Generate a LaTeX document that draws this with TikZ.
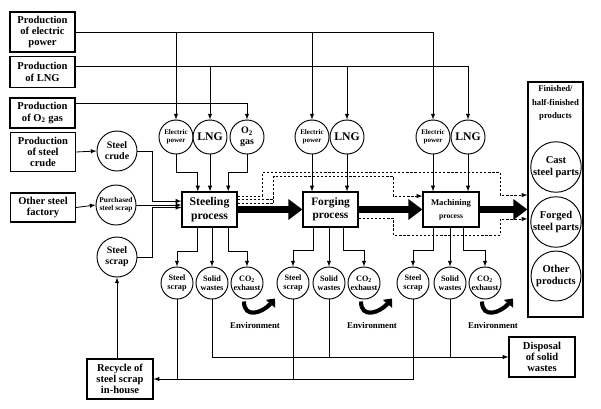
\documentclass[tikz,border=0pt]{standalone}
\usepackage{fontspec}
\setmainfont{Liberation Serif}
\usetikzlibrary{arrows.meta,calc}

\tikzset{
  srcbox/.style={draw, line width=0.9pt, align=center, minimum width=1.95cm, inner sep=1pt,
    font=\bfseries\fontsize{9}{9.6}\selectfont},
  procbox/.style={draw, line width=0.9pt, align=center, minimum width=1.65cm, minimum height=1.05cm, inner sep=1pt},
  res/.style={draw, circle, line width=0.8pt, minimum size=1.02cm, inner sep=0pt, align=center},
  outres/.style={draw, circle, line width=0.8pt, minimum size=0.96cm, inner sep=0pt, align=center,
    font=\bfseries\fontsize{7}{7.6}\selectfont},
  inres/.style={draw, circle, line width=0.8pt, minimum size=1.2cm, inner sep=0pt, align=center},
  prodres/.style={draw, circle, line width=0.8pt, minimum size=1.5cm, inner sep=0pt, align=center,
    font=\bfseries\fontsize{9}{10}\selectfont},
  dashline/.style={dash pattern=on 2pt off 1.5pt, line width=0.7pt},
  bigarrow/.style={line width=6pt, -{Triangle[length=12pt,width=17pt]}},
  envarrow/.style={line width=3.5pt, -{Triangle[length=6pt,width=10pt]}},
  envlabel/.style={font=\bfseries\fontsize{7.5}{8}\selectfont}
}

\begin{document}
\begin{tikzpicture}[x=0.03cm, y=-0.03cm, >=latex, line width=0.7pt]
\useasboundingbox (0,0) rectangle (601,408);

% source boxes
\node[srcbox, minimum height=1.2cm] (pelec) at (42.5,32) {Production\\of electric\\power};
\node[srcbox, minimum height=0.93cm] (plng) at (42.5,72) {Production\\of LNG};
\node[srcbox, minimum height=0.9cm] (po2) at (42.5,113) {Production\\of O\textsubscript{2} gas};
\node[srcbox, minimum height=1.17cm] (pcrude) at (43,152) {Production\\of steel\\crude};
\node[srcbox, minimum height=0.87cm] (other) at (43,207.5) {Other steel\\factory};
\node[srcbox, minimum width=1.98cm, minimum height=1.2cm] (recycle) at (120,379) {Recycle of\\steel scrap\\in-house};
\node[srcbox, minimum width=1.98cm, minimum height=1.2cm] (disposal) at (542,357) {Disposal\\of solid\\wastes};

% input circles
\node[inres, font=\bfseries\fontsize{8.5}{9.5}\selectfont] (crude) at (117,151) {Steel\\crude};
\node[inres, font=\bfseries\fontsize{6.3}{7}\selectfont] (purch) at (116,205) {Purchased\\steel scrap};
\node[inres, font=\bfseries\fontsize{8.5}{9.5}\selectfont] (scrap) at (117,257) {Steel\\scrap};

% processes
\node[procbox, font=\bfseries\fontsize{10}{11.5}\selectfont] (steel) at (209.5,209.5) {Steeling\\process};
\node[procbox, font=\bfseries\fontsize{9.7}{11.5}\selectfont] (forge) at (330.5,209.5) {Forging\\process};
\node[procbox, minimum width=1.68cm, font=\bfseries\fontsize{7.4}{11}\selectfont] (mach) at (451,209.5) {Machining\\{\fontsize{6.5}{7}\selectfont process}};

% utility circles
\node[res, font=\bfseries\fontsize{6}{6.6}\selectfont] (e1) at (176,137) {Electric\\power};
\node[res, font=\bfseries\fontsize{10}{11}\selectfont] (l1) at (210,137) {LNG};
\node[res, font=\bfseries\fontsize{8.5}{9.5}\selectfont] (o1) at (247,137) {O\textsubscript{2}\\gas};
\node[res, font=\bfseries\fontsize{6}{6.6}\selectfont] (e2) at (312,137) {Electric\\power};
\node[res, font=\bfseries\fontsize{10}{11}\selectfont] (l2) at (347,137) {LNG};
\node[res, font=\bfseries\fontsize{6}{6.6}\selectfont] (e3) at (433,137) {Electric\\power};
\node[res, font=\bfseries\fontsize{10}{11}\selectfont] (l3) at (468,137) {LNG};

% output circles
\node[outres] (s1) at (177,283) {Steel\\scrap};
\node[outres] (w1) at (212,283) {Solid\\wastes};
\node[outres] (c1) at (247,283) {CO\textsubscript{2}\\exhaust};
\node[outres] (s2) at (293,283) {Steel\\scrap};
\node[outres] (w2) at (329,283) {Solid\\wastes};
\node[outres] (c2) at (364,283) {CO\textsubscript{2}\\exhaust};
\node[outres] (s3) at (413,283) {Steel\\scrap};
\node[outres] (w3) at (450,283) {Solid\\wastes};
\node[outres] (c3) at (485,283) {CO\textsubscript{2}\\exhaust};

% products
\node[draw, line width=0.9pt, minimum width=1.65cm, minimum height=7.05cm] (prod) at (555.5,199.5) {};
\node[align=center, font=\bfseries\fontsize{7.4}{11.5}\selectfont] (prodtitle) at (555.5,103) {Finished/\\half-finished\\products};
\node[prodres] (cast) at (556,167) {Cast\\steel parts};
\node[prodres] (forged) at (556,222) {Forged\\steel parts};
\node[prodres] (otherp) at (556,276) {Other\\products};

% supply lines
\draw[->] (pelec.east) -| (e3.north);
\foreach \n in {e1,e2} \draw[->] (\n |- pelec.east) -- (\n.north);
\coordinate (lngline) at ([yshift=5pt]plng.east);
\draw[->] (lngline) -| (l3.north);
\foreach \n in {l1,l2} \draw[->] (\n |- lngline) -- (\n.north);
\draw[->] ([yshift=8.5pt]po2.east) -| (o1.north);

% into processes
\draw[->] (e1.south) -- ++(0,18) -| ([xshift=-10pt]steel.north);
\draw[->] (l1.south) -- (l1 |- steel.north);
\draw[->] (o1.south) -- ++(0,18) -| ([xshift=16pt]steel.north);
\foreach \n in {e2,l2} \draw[->] (\n.south) -- (\n |- forge.north);
\foreach \n in {e3,l3} \draw[->] (\n.south) -- (\n |- mach.north);

\draw[->] (pcrude.east) -- (crude.west);
\draw[->] (other.east) -- (purch.west);
\draw[->] (scrap |- recycle.north) -- (scrap.south);
\draw[->] (crude.east) -- ++(15,0) |- ([yshift=7.2pt]steel.west);
\draw[->] (purch.east) -- (purch.east -| steel.west);
\draw[->] (scrap.east) -- ++(15,0) |- ([yshift=1.7pt]steel.west);

% main flow
\draw[bigarrow] (steel.east) -- (forge.west);
\draw[bigarrow] (forge.east) -- (mach.west);
\draw[bigarrow] (mach.east) -- (mach.east -| prod.west);

% by-pass flows
\draw[dashline, ->] ([yshift=11.5pt]steel.east) -- ++(25,0) |- (500,172) |- ([yshift=3.8pt]prod.west);
\draw[dashline] ([yshift=8.5pt]steel.east) -- ++(36,0);
\draw[dashline, ->] ([yshift=5pt]steel.east) -- ++(36,0) |- (393,176) |- ([yshift=11.5pt]mach.west);
\draw[dashline, ->] ([yshift=-7.5pt]forge.east) -- ++(35,0) |- (500,235) |- ([yshift=-16.6pt]prod.west);

% out of processes
\draw[->] ([xshift=-10pt]steel.south) -- ++(0,24) -| (s1.north);
\draw[->] (w1 |- steel.south) -- (w1.north);
\draw[->] ([xshift=16pt]steel.south) -- ++(0,24) -| (c1.north);
\draw[->] ([xshift=-15pt]forge.south) -- ++(0,23) -| (s2.north);
\draw[->] (w2 |- forge.south) -- (w2.north);
\draw[->] ([xshift=10.7pt]forge.south) -- ++(0,23) -| (c2.north);
\draw[->] ([xshift=-15.4pt]mach.south) -- ++(0,23) -| (s3.north);
\draw[->] (w3 |- mach.south) -- (w3.north);
\draw[->] ([xshift=10.2pt]mach.south) -- ++(0,23) -| (c3.north);

% scrap back and wastes out
\draw[->] (s3.south) |- (recycle.east);
\foreach \n in {s1,s2} \draw (\n.south) -- (\n |- recycle.east);
\draw[->] (w1.south) |- (disposal.west);
\foreach \n in {w2,w3} \draw (\n.south) -- (\n |- disposal.west);

% exhaust to environment
\foreach \n/\k in {c1/1,c2/2,c3/3}{
  \draw[envarrow] ($(\n.south)+(-3,2)$) .. controls +(0,18) and +(-12,14) .. ($(\n.south)+(28,-1)$);
  \node[envlabel] (env\k) at ($(\n)+(8,42)$) {Environment};
}
\end{tikzpicture}
\end{document}
